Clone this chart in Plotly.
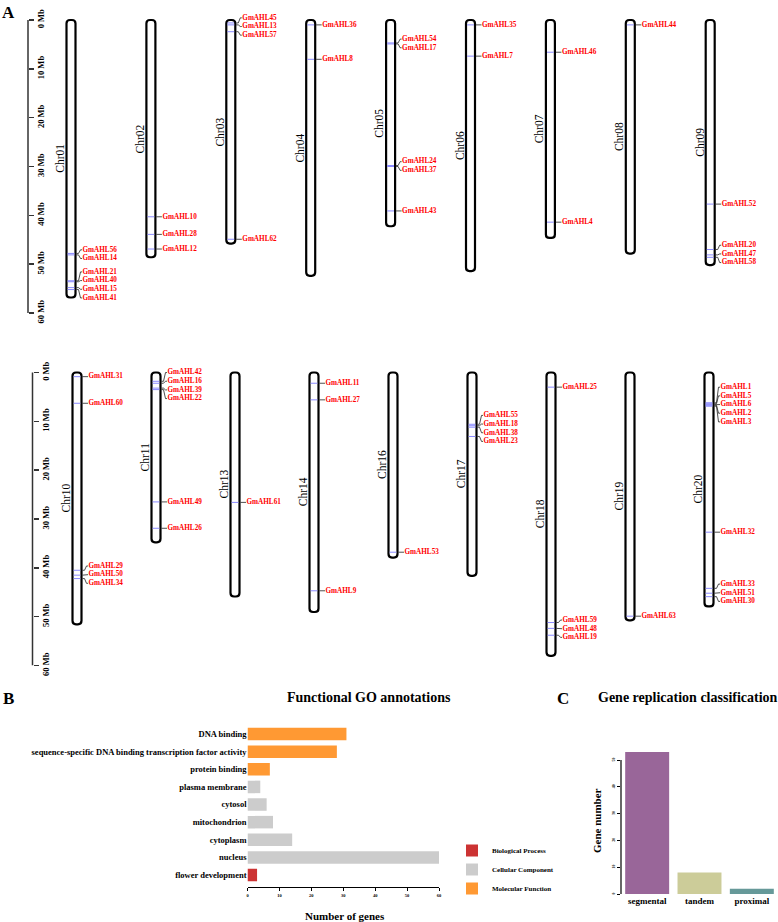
import plotly.graph_objects as go

W, H = 778, 922
SERIF = "Liberation Serif"

# ---------------- Panel A data ----------------
top_chroms = ["Chr01", "Chr02", "Chr03", "Chr04", "Chr05", "Chr06", "Chr07", "Chr08", "Chr09"]
top_lengths = [56.83, 48.58, 45.78, 52.39, 42.23, 51.42, 44.63, 47.84, 50.19]
bottom_chroms = ["Chr10", "Chr11", "Chr13", "Chr14", "Chr16", "Chr17", "Chr18", "Chr19", "Chr20"]
bottom_lengths = [51.57, 34.77, 45.87, 49.04, 37.89, 41.64, 58.02, 50.75, 47.90]

gene_names = [
    "GmAHL56", "GmAHL14", "GmAHL21", "GmAHL40", "GmAHL15", "GmAHL41",
    "GmAHL10", "GmAHL28", "GmAHL12",
    "GmAHL45", "GmAHL13", "GmAHL57", "GmAHL62",
    "GmAHL36", "GmAHL8",
    "GmAHL54", "GmAHL17", "GmAHL24", "GmAHL37", "GmAHL43",
    "GmAHL35", "GmAHL7",
    "GmAHL46", "GmAHL4",
    "GmAHL44",
    "GmAHL52", "GmAHL20", "GmAHL47", "GmAHL58",
    "GmAHL31", "GmAHL60", "GmAHL29", "GmAHL50", "GmAHL34",
    "GmAHL42", "GmAHL16", "GmAHL39", "GmAHL22", "GmAHL49", "GmAHL26",
    "GmAHL61",
    "GmAHL11", "GmAHL27", "GmAHL9",
    "GmAHL53",
    "GmAHL55", "GmAHL18", "GmAHL38", "GmAHL23",
    "GmAHL25", "GmAHL59", "GmAHL48", "GmAHL19",
    "GmAHL63",
    "GmAHL1", "GmAHL5", "GmAHL6", "GmAHL2", "GmAHL3", "GmAHL32", "GmAHL33", "GmAHL51", "GmAHL30",
]
gene_chroms = (
    ["Chr01"] * 6 + ["Chr02"] * 3 + ["Chr03"] * 4 + ["Chr04"] * 2 + ["Chr05"] * 5
    + ["Chr06"] * 2 + ["Chr07"] * 2 + ["Chr08"] * 1 + ["Chr09"] * 4
    + ["Chr10"] * 5 + ["Chr11"] * 6 + ["Chr13"] * 1 + ["Chr14"] * 3 + ["Chr16"] * 1
    + ["Chr17"] * 4 + ["Chr18"] * 4 + ["Chr19"] * 1 + ["Chr20"] * 9
)
gene_mb = [
    47.8, 48.1, 53.4, 53.6, 54.8, 55.2,
    40.3, 43.9, 46.9,
    0.6, 1.0, 2.4, 44.9,
    1.0, 8.05,
    4.7, 4.9, 29.8, 30.0, 39.1,
    1.0, 7.4,
    6.6, 41.4,
    1.0,
    37.7, 47.0, 48.1, 48.6,
    0.85, 6.3, 40.5, 41.5, 42.2,
    1.8, 2.2, 3.2, 3.5, 26.5, 31.9,
    26.6,
    2.2, 5.6, 44.7,
    36.8,
    10.6, 10.9, 11.2, 13.1,
    3.0, 51.2, 52.4, 53.8,
    49.9,
    6.2, 6.4, 6.6, 6.7, 6.9, 32.7, 44.2, 45.2, 45.9,
]
mb_ticks = [0, 10, 20, 30, 40, 50, 60]
mb_ticktext = [f"{v} Mb" for v in mb_ticks]

# ---------------- Panel B data ----------------
go_terms = ["flower development", "nucleus", "cytoplasm", "mitochondrion", "cytosol",
            "plasma membrane", "protein binding",
            "sequence-specific DNA binding transcription factor activity", "DNA binding"]
go_counts = [3, 60, 14, 8, 6, 4, 7, 28, 31]
go_classes = ["Biological Process", "Cellular Component", "Cellular Component", "Cellular Component",
              "Cellular Component", "Cellular Component", "Molecular Function",
              "Molecular Function", "Molecular Function"]
go_class_order = ["Biological Process", "Cellular Component", "Molecular Function"]
go_class_colors = ["#CC3333", "#CCCCCC", "#FF9933"]
go_ticks = [0, 10, 20, 30, 40, 50, 60]

# ---------------- Panel C data ----------------
dup_types = ["segmental", "tandem", "proximal"]
dup_counts = [53, 8, 2]
dup_colors = ["#996699", "#CCCC99", "#669999"]
dup_ticks = [0, 10, 20, 30, 40, 50]


def px_x(px):
    return px / W


def px_y(py):
    return 1 - py / H


def spread(pos, gap):
    order = sorted(range(len(pos)), key=lambda k: pos[k])
    clusters = [[k] for k in order]

    def lay(cl):
        m = sum(pos[k] for k in cl) / len(cl)
        n = len(cl)
        return [m + (j - (n - 1) / 2) * gap for j in range(n)]

    merged = True
    while merged:
        merged = False
        for j in range(len(clusters) - 1):
            if lay(clusters[j + 1])[0] - lay(clusters[j])[-1] < gap - 1e-9:
                clusters[j] += clusters.pop(j + 1)
                merged = True
                break
    out = [0.0] * len(pos)
    for cl in clusters:
        for k, y in zip(cl, lay(cl)):
            out[k] = y
    return out


fig = go.Figure()
shapes = []
annotations = []
layout_axes = {}
MB_PAD = 4  # headroom above 0 Mb for labels


def build_row(row, chroms, lengths, c0, sp, y0, y60, axis_px):
    xa = "x" if row == 1 else "x2"
    ya = "y" if row == 1 else "y2"
    xkey = "xaxis" if row == 1 else "xaxis2"
    ykey = "yaxis" if row == 1 else "yaxis2"
    mbpx = (y60 - y0) / 60.0

    def dx(p):
        return p / sp

    def dy(p):
        return p / mbpx

    layout_axes[xkey] = dict(domain=[0, 1], range=[-c0 / sp, (W - c0) / sp], visible=False,
                             anchor=ya, fixedrange=True, automargin=False)
    layout_axes[ykey] = dict(domain=[px_y(y60), px_y(y0 - MB_PAD * mbpx)], range=[60, -MB_PAD],
                             anchor="free", position=px_x(axis_px), side="right", showline=False,
                             ticks="outside", ticklen=5, tickwidth=1.5, tickcolor="#333",
                             tickvals=mb_ticks, ticktext=mb_ticktext, tickangle=-90,
                             showgrid=False, zeroline=False, automargin=False, fixedrange=True,
                             tickfont=dict(family=SERIF, size=8.5, color="black", weight="bold"))
    shapes.append(dict(type="line", xref="paper", yref=ya, x0=px_x(axis_px), x1=px_x(axis_px),
                       y0=mb_ticks[0], y1=mb_ticks[-1], line=dict(color="#333", width=1.5)))

    bx, by, cx, cy, lx, ly, lt = [], [], [], [], [], [], []
    for i, (name, L) in enumerate(zip(chroms, lengths)):
        hw, rx, ry = dx(4.5), dx(3.5), dy(3.5)
        x0, x1 = i - hw, i + hw
        path = (f"M {x0},{ry} Q {x0},0 {x0 + rx},0 L {x1 - rx},0 Q {x1},0 {x1},{ry} "
                f"L {x1},{L - ry} Q {x1},{L} {x1 - rx},{L} L {x0 + rx},{L} Q {x0},{L} {x0},{L - ry} Z")
        shapes.append(dict(type="path", path=path, xref=xa, yref=ya, layer="below",
                           line=dict(color="black", width=2.2), fillcolor="white"))
        annotations.append(dict(x=i - dx(11), y=L / 2, xref=xa, yref=ya, text=name, textangle=-90,
                                showarrow=False, xanchor="center", yanchor="middle",
                                font=dict(family=SERIF, size=11.5, color="black")))
        idx = [k for k, c in enumerate(gene_chroms) if c == name]
        pos = [gene_mb[k] for k in idx]
        labs = spread(pos, dy(8.67))
        for k, p, lp in zip(idx, pos, labs):
            bx += [i - dx(3.4), i + dx(3.4), None]
            by += [p, p, None]
            cx += [i + dx(5.5), i + dx(7.5), i + dx(9.5), i + dx(11), None]
            cy += [p, p, lp, lp, None]
            lx.append(i + dx(11.5))
            ly.append(lp)
            lt.append(gene_names[k])

    fig.add_trace(go.Scatter(x=bx, y=by, mode="lines", xaxis=xa, yaxis=ya, showlegend=False,
                             line=dict(color="#8A8AFF", width=1), hoverinfo="skip"))
    fig.add_trace(go.Scatter(x=cx, y=cy, mode="lines", xaxis=xa, yaxis=ya, showlegend=False,
                             line=dict(color="#222", width=0.8), hoverinfo="skip", cliponaxis=False))
    fig.add_trace(go.Scatter(x=lx, y=ly, text=lt, mode="text", textposition="middle right",
                             xaxis=xa, yaxis=ya, showlegend=False, cliponaxis=False, hoverinfo="skip",
                             textfont=dict(family=SERIF, size=7.2, color="#FF0000", weight="bold")))


build_row(1, top_chroms, top_lengths, c0=71, sp=79.9, y0=20, y60=313, axis_px=28)
build_row(2, bottom_chroms, bottom_lengths, c0=77, sp=79, y0=372.5, y60=665.5, axis_px=32.5)

# ---------------- Panel B ----------------
for cls, col in zip(go_class_order, go_class_colors):
    xs = [c for c, k in zip(go_counts, go_classes) if k == cls]
    ys = [t for t, k in zip(go_terms, go_classes) if k == cls]
    fig.add_trace(go.Bar(x=xs, y=ys, orientation="h", name=cls, marker=dict(color=col, line=dict(width=0)),
                         width=0.71, xaxis="x3", yaxis="y3", showlegend=True))

layout_axes["xaxis3"] = dict(domain=[px_x(247.5), px_x(439)], anchor="y3", range=[0, 60],
                             showline=True, linecolor="black", linewidth=1.2, ticks="outside",
                             ticklen=3, tickwidth=1, tickcolor="black", tickvals=go_ticks,
                             showgrid=False, zeroline=False, fixedrange=True, automargin=False,
                             tickfont=dict(family=SERIF, size=4.5, color="black", weight="bold"))
layout_axes["yaxis3"] = dict(domain=[px_y(887), px_y(725.2)], anchor="x3", type="category",
                             categoryorder="array", categoryarray=go_terms, range=[-0.68, 8.5],
                             showline=False, ticks="", showgrid=False, zeroline=False,
                             automargin=False, fixedrange=True,
                             tickfont=dict(family=SERIF, size=8.5, color="black", weight="bold"))

# ---------------- Panel C ----------------
fig.add_trace(go.Bar(x=dup_types, y=dup_counts, marker=dict(color=dup_colors, line=dict(width=0)),
                     width=0.84, xaxis="x4", yaxis="y4", showlegend=False))
layout_axes["xaxis4"] = dict(domain=[px_x(621), 1], anchor="y4", type="category", range=[-0.5, 2.5],
                             showline=False, ticks="", showgrid=False, zeroline=False,
                             automargin=False, fixedrange=True,
                             tickfont=dict(family=SERIF, size=9, color="black", weight="bold"))
layout_axes["yaxis4"] = dict(domain=[px_y(894), px_y(746.6)], anchor="x4", range=[0, 55],
                             showline=False, ticks="outside", ticklen=3, tickwidth=1,
                             tickcolor="black", tickvals=dup_ticks, tickangle=-90,
                             showgrid=False, zeroline=False, automargin=False, fixedrange=True,
                             tickfont=dict(family=SERIF, size=4, color="black", weight="bold"))
shapes.append(dict(type="line", xref="x4 domain", yref="y4", x0=0, x1=0, y0=dup_ticks[0],
                   y1=dup_ticks[-1], line=dict(color="black", width=1.2)))


# ---------------- Text annotations ----------------
def txt(x, y, s, size, bold=True, angle=0, xanchor="center"):
    annotations.append(dict(x=px_x(x), y=px_y(y), xref="paper", yref="paper", text=s,
                            showarrow=False, textangle=angle, xanchor=xanchor, yanchor="middle",
                            font=dict(family=SERIF, size=size, color="black",
                                      weight="bold" if bold else "normal")))


txt(0, 13, "A", 17, xanchor="left")
txt(1, 698, "B", 17, xanchor="left")
txt(555, 698, "C", 17, xanchor="left")
txt(369, 697, "Functional GO annotations", 14)
txt(688, 697, "Gene replication classification", 14)
txt(345, 916, "Number of genes", 11)
txt(597, 821, "Gene number", 11, angle=-90)

fig.update_layout(
    template="none",
    width=W, height=H, margin=dict(l=0, r=0, t=0, b=0, pad=0, autoexpand=False),
    paper_bgcolor="white", plot_bgcolor="white",
    font=dict(family=SERIF, color="black"),
    barmode="relative",
    shapes=shapes, annotations=annotations,
    legend=dict(x=px_x(452), y=px_y(836), xanchor="left", yanchor="top", traceorder="normal",
                bgcolor="rgba(0,0,0,0)", itemwidth=30, tracegroupgap=0, borderwidth=0,
                font=dict(family=SERIF, size=7, color="black", weight="bold")),
    **layout_axes,
)

fig.write_html("out.html", config={"displayModeBar": False, "staticPlot": True},
               post_script="document.body.style.margin='0';document.body.style.overflow='hidden';")
